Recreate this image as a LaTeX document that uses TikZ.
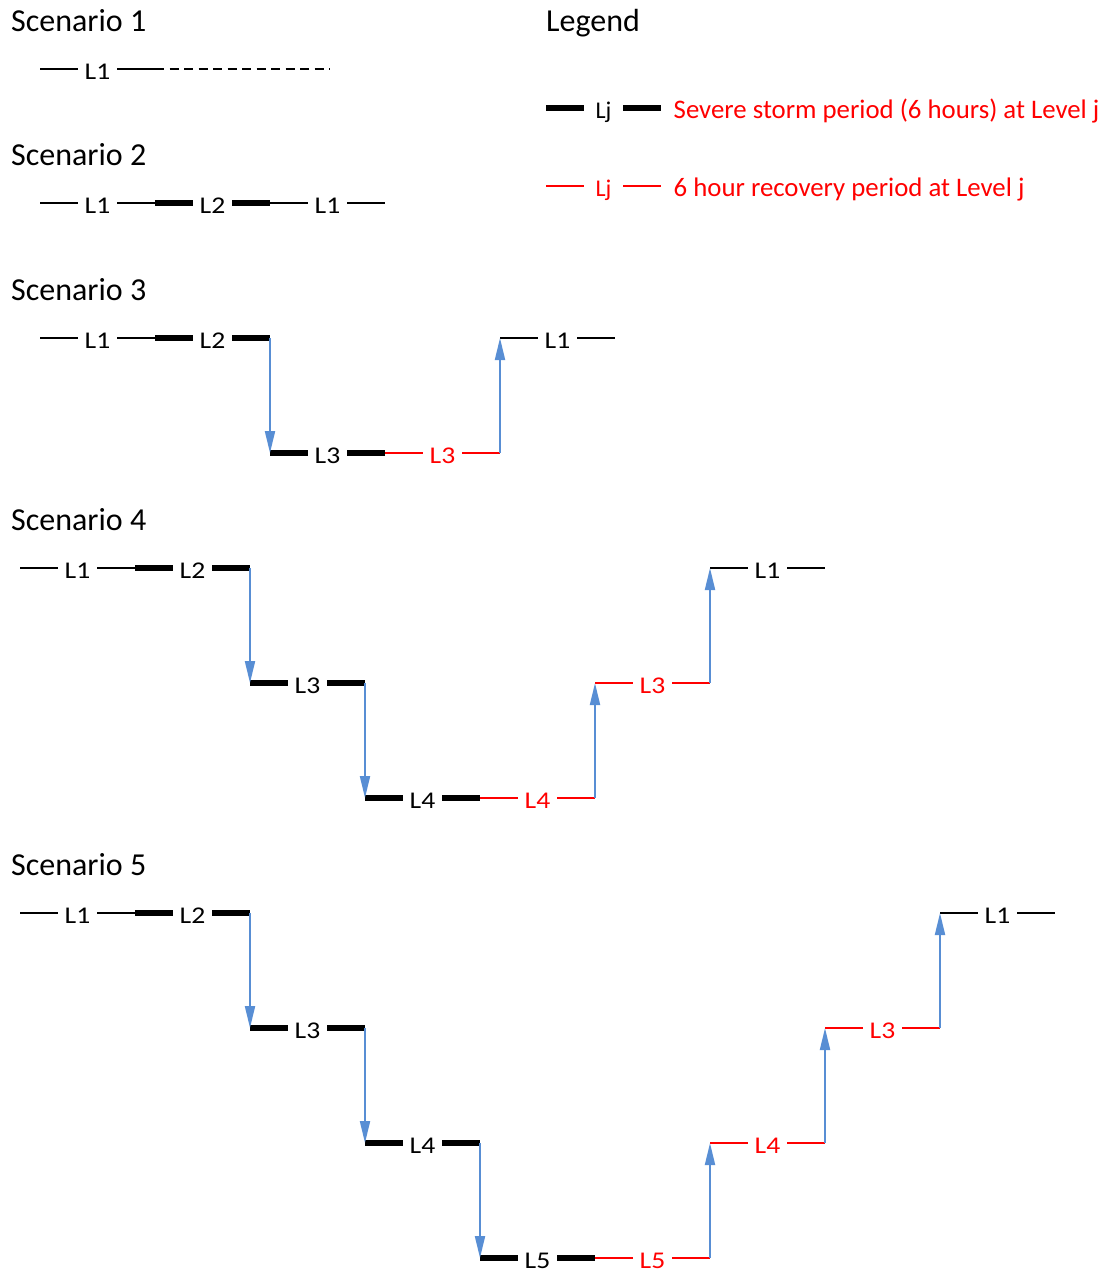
\documentclass[tikz,border=0pt]{standalone}
\usepackage{fontspec}
\setmainfont{Carlito}
\usetikzlibrary{arrows.meta}

\definecolor{stepblue}{RGB}{88,142,212}

% One 6-hour period at a level: line, label, line
\newcommand\lvlseg[6][1.15]{%
  \coordinate (#2-s) at (#3,#4);
  \coordinate (#2-e) at ({#3+115},#4);
  \node[lvl,#5txt] (#2) at ({#3+57.5},#4) {\scalebox{#1}[1]{#6}};
  \draw[#5] (#2-s) -- (#2.west);
  \draw[#5] (#2.east) -- (#2-e);
}

\begin{document}
\begin{tikzpicture}[x=1pt,y=-1pt,
  lvl/.style={inner sep=0pt,minimum width=39pt,text height=20pt,text depth=0pt,
              font=\fontsize{24}{28}\selectfont},
  storm/.style={black,line width=6pt},
  calm/.style={black,line width=2pt},
  recov/.style={red,line width=2pt},
  stormtxt/.style={text=black},
  calmtxt/.style={text=black},
  recovtxt/.style={text=red},
  title/.style={anchor=base west,inner sep=0pt,font=\fontsize{32}{36}\selectfont},
  legtxt/.style={anchor=west,inner sep=0pt,text=red,text height=20.6pt,text depth=0pt,
                 font=\fontsize{26.8}{30}\selectfont},
  levelarrow/.style={stepblue,line width=2pt,-{Triangle[length=22pt,width=10pt]}}
]
\useasboundingbox (0,0) rectangle (1106,1272);

% ---------- Scenario 1 ----------
\node[title] (t1) at (11,31.7) {Scenario 1};
\lvlseg{sa}{40}{69}{calm}{L1}
\coordinate (sa-end) at (330,69);
\draw[calm,dash pattern=on 9pt off 5.5pt] (sa-e) -- (sa-end);

% ---------- Scenario 2 ----------
\node[title] (t2) at (11,165.7) {Scenario 2};
\lvlseg{sba}{40}{203}{calm}{L1}
\lvlseg{sbb}{155}{203}{storm}{L2}
\lvlseg{sbc}{270}{203}{calm}{L1}

% ---------- Scenario 3 ----------
\node[title] (t3) at (11,300.4) {Scenario 3};
\lvlseg{sca}{40}{338}{calm}{L1}
\lvlseg{scb}{155}{338}{storm}{L2}
\lvlseg{scc}{270}{453}{storm}{L3}
\lvlseg{scd}{385}{453}{recov}{L3}
\lvlseg{sce}{500}{338}{calm}{L1}
\draw[levelarrow] (scb-e) -- (scc-s);
\draw[levelarrow] (scd-e) -- (sce-s);

% ---------- Scenario 4 ----------
\node[title] (t4) at (11,530.4) {Scenario 4};
\lvlseg{sda}{20}{568}{calm}{L1}
\lvlseg{sdb}{135}{568}{storm}{L2}
\lvlseg{sdc}{250}{683}{storm}{L3}
\lvlseg{sdd}{365}{798}{storm}{L4}
\lvlseg{sde}{480}{798}{recov}{L4}
\lvlseg{sdf}{595}{683}{recov}{L3}
\lvlseg{sdg}{710}{568}{calm}{L1}
\draw[levelarrow] (sdb-e) -- (sdc-s);
\draw[levelarrow] (sdc-e) -- (sdd-s);
\draw[levelarrow] (sde-e) -- (sdf-s);
\draw[levelarrow] (sdf-e) -- (sdg-s);

% ---------- Scenario 5 ----------
\node[title] (t5) at (11,875.4) {Scenario 5};
\lvlseg{sea}{20}{913}{calm}{L1}
\lvlseg{seb}{135}{913}{storm}{L2}
\lvlseg{sec}{250}{1028}{storm}{L3}
\lvlseg{sed}{365}{1143}{storm}{L4}
\lvlseg{see}{480}{1258}{storm}{L5}
\lvlseg{sef}{595}{1258}{recov}{L5}
\lvlseg{seg}{710}{1143}{recov}{L4}
\lvlseg{seh}{825}{1028}{recov}{L3}
\lvlseg{sei}{940}{913}{calm}{L1}
\draw[levelarrow] (seb-e) -- (sec-s);
\draw[levelarrow] (sec-e) -- (sed-s);
\draw[levelarrow] (sed-e) -- (see-s);
\draw[levelarrow] (sef-e) -- (seg-s);
\draw[levelarrow] (seg-e) -- (seh-s);
\draw[levelarrow] (seh-e) -- (sei-s);

% ---------- Legend ----------
\node[title] (tl) at (546,31.7) {Legend};
\lvlseg[1]{lga}{546}{108}{storm}{Lj}
\node[legtxt] (lgat) at (673.5,108) {Severe storm period (6 hours) at Level j};
\lvlseg[1]{lgb}{546}{186}{recov}{Lj}
\node[legtxt] (lgbt) at (673.5,186) {6 hour recovery period at Level j};
\end{tikzpicture}
\end{document}
